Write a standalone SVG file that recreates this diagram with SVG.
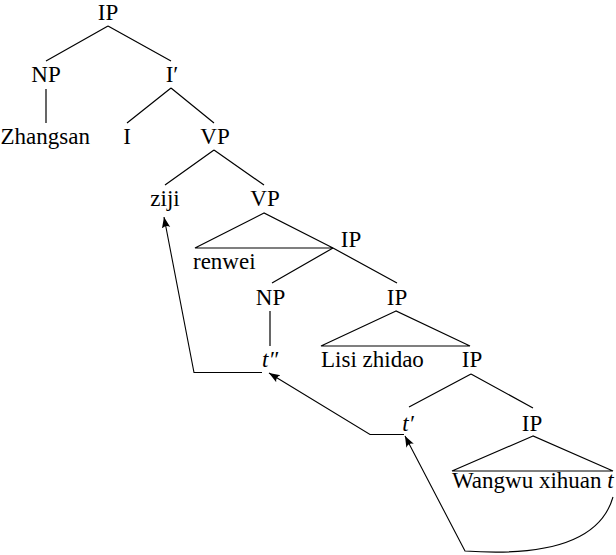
<svg xmlns="http://www.w3.org/2000/svg" width="616" height="555" viewBox="0 0 616 555">
<style>
.m{text-anchor:middle}
.i{font-style:italic}
.e{stroke:#000;stroke-width:1.2;fill:none}
.a{stroke:#000;stroke-width:1.1;fill:none;marker-end:url(#ah)}
</style>
<defs>
<marker id="ah" markerUnits="userSpaceOnUse" markerWidth="14" markerHeight="10" refX="11" refY="5" orient="auto" viewBox="0 0 14 10">
<path d="M11,5 L0,0.8 Q3.5,5 0,9.2 Z" fill="#000"/>
</marker>
</defs>
<rect width="616" height="555" fill="#fff"/>
<g id="connectors">
<path class="e" d="M108,26 L46,61 M108,26 L171,61"/>
<path class="e" d="M46,89 L46,123"/>
<path class="e" d="M171,88 L127,123 M171,88 L214,123"/>
<path class="e" d="M214,150 L165,185 M214,150 L264,185"/>
<path class="e" d="M264,213 L195,248 L333,248 Z"/>
<path class="e" d="M333,248 L272,283 M333,248 L397,283"/>
<path class="e" d="M270,311 L270,346"/>
<path class="e" d="M396,311 L321,346 L470,346 Z"/>
<path class="e" d="M471,374 L409,407 M471,374 L533,408"/>
<path class="e" d="M533,436 L452,471 L613,471 Z"/>
<path class="a" d="M613,497 Q595,560 465,551 L405,436"/>
<path class="a" d="M404,434.5 L370,434.5 L269,373"/>
<path class="a" d="M262,372.5 L194,372.5 L164,217"/>
</g>
<g id="nodes" font-family="Liberation Serif, Times New Roman, serif" font-size="23" fill="#000">
<g id="n-ip1"><text class="m" x="108" y="20">IP</text></g>
<g id="n-np1"><text class="m" x="46" y="82">NP</text></g>
<g id="n-ibar"><text class="m" x="172" y="82">I′</text></g>
<g id="n-zhangsan"><text x="0.5" y="144">Zhangsan</text></g>
<g id="n-i"><text class="m" x="127" y="144">I</text></g>
<g id="n-vp1"><text class="m" x="215" y="144">VP</text></g>
<g id="n-ziji"><text class="m" x="165" y="206">ziji</text></g>
<g id="n-vp2"><text class="m" x="265" y="206">VP</text></g>
<g id="n-renwei"><text x="193" y="269">renwei</text></g>
<g id="n-ip2"><text class="m" x="351" y="247">IP</text></g>
<g id="n-np2"><text class="m" x="270.5" y="305">NP</text></g>
<g id="n-ip3"><text class="m" x="397" y="305">IP</text></g>
<g id="n-t2"><text class="m i" x="270" y="367">t″</text></g>
<g id="n-lisi"><text x="321" y="367">Lisi zhidao</text></g>
<g id="n-ip4"><text class="m" x="472" y="367">IP</text></g>
<g id="n-t1"><text class="m i" x="408" y="431">t′</text></g>
<g id="n-ip5"><text class="m" x="532" y="431">IP</text></g>
<g id="n-wangwu"><text x="452" y="488">Wangwu xihuan <tspan class="i">t</tspan></text></g>
</g>
</svg>
